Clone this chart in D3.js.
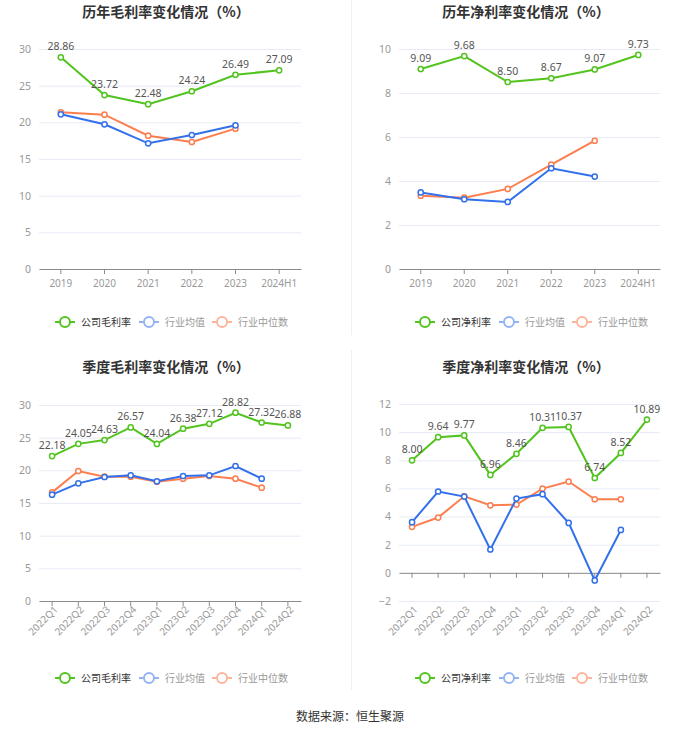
<!DOCTYPE html>
<html><head><meta charset="utf-8">
<script src="https://cdn.jsdelivr.net/npm/d3@7/dist/d3.min.js"></script>
<style>body{margin:0;background:#fff;font-family:"Noto Sans CJK SC","Noto Sans",sans-serif;}</style>
</head><body><svg id="c" width="700" height="734"></svg>
<script>
const years = ["2019","2020","2021","2022","2023","2024H1"];
const quarters = ["2022Q1","2022Q2","2022Q3","2022Q4","2023Q1","2023Q2","2023Q3","2023Q4","2024Q1","2024Q2"];

const yearGross = [28.86,23.72,22.48,24.24,26.49,27.09];
const yearGrossAvg = [21.09,19.73,17.14,18.27,19.59];
const yearGrossMed = [21.36,21.05,18.18,17.32,19.14];

const yearNet = [9.09,9.68,8.50,8.67,9.07,9.73];
const yearNetAvg = [3.48,3.17,3.05,4.58,4.20];
const yearNetMed = [3.33,3.24,3.64,4.74,5.83];

const qGross = [22.18,24.05,24.63,26.57,24.04,26.38,27.12,28.82,27.32,26.88];
const qGrossAvg = [16.28,18.01,18.98,19.23,18.32,19.13,19.23,20.66,18.72];
const qGrossMed = [16.63,19.90,19.03,19.03,18.27,18.72,19.13,18.72,17.35];

const qNet = [8.00,9.64,9.77,6.96,8.46,10.31,10.37,6.74,8.52,10.89];
const qNetAvg = [3.60,5.78,5.42,1.66,5.28,5.59,3.55,-0.54,3.05];
const qNetMed = [3.27,3.93,5.44,4.80,4.85,5.99,6.49,5.23,5.23];

const titles = ["历年毛利率变化情况（%）","历年净利率变化情况（%）","季度毛利率变化情况（%）","季度净利率变化情况（%）"];
const legendNames = [["公司毛利率","行业均值","行业中位数"],["公司净利率","行业均值","行业中位数"]];
const yTicksTop1 = [0,5,10,15,20,25,30];
const yTicksTop2 = [0,2,4,6,8,10];
const yTicksBot1 = [0,5,10,15,20,25,30];
const yTicksBot2 = [-2,0,2,4,6,8,10,12];
const source = "数据来源：恒生聚源";

const GREEN="#52c31f", BLUE="#3370eb", ORANGE="#fc7e4f";
const BLUE_L="#94b3f5", ORANGE_L="#fdb59c";

const svg = d3.select("#c");

// separators
svg.append("line").attr("x1",351.5).attr("x2",351.5).attr("y1",0).attr("y2",335).attr("stroke","#f0f0f0");
svg.append("line").attr("x1",351.5).attr("x2",351.5).attr("y1",350).attr("y2",690).attr("stroke","#f0f0f0");

function panel(cfg){
  const g = svg.append("g");
  const x = d3.scaleBand().domain(cfg.cats).range([cfg.x0,cfg.x1]);
  const y = d3.scaleLinear().domain(cfg.domain).range([cfg.yb,cfg.yt]);
  const cx = d => x(d)+x.bandwidth()/2;
  g.append("text").attr("x",cfg.tx).attr("y",cfg.ty).attr("text-anchor","middle")
    .attr("font-size",14).attr("font-weight","bold").attr("fill","#333").text(cfg.title);
  const yAxis = d3.axisLeft(y).tickValues(cfg.ticks).tickSize(-(cfg.x1-cfg.x0)).tickPadding(8);
  const ga = g.append("g").attr("transform",`translate(${cfg.x0},0)`).call(yAxis);
  ga.select(".domain").remove();
  ga.selectAll(".tick line").attr("stroke","#e6ebf5");
  ga.selectAll(".tick text").attr("fill","#999").attr("font-size",10.5).attr("font-family","Noto Sans, sans-serif");
  const xAxis = d3.axisBottom(x).tickSize(5).tickSizeOuter(0).tickPadding(6);
  const gx = g.append("g").attr("transform",`translate(0,${y(0)})`).call(xAxis);
  gx.select(".domain").attr("stroke","#8c8c8c");
  gx.selectAll(".tick line").attr("stroke","#8c8c8c");
  gx.selectAll(".tick text").attr("fill","#999").attr("font-size",10).attr("font-family","Noto Sans, sans-serif");
  if(cfg.rotate){
    gx.selectAll(".tick text").attr("text-anchor","end")
      .attr("transform",`translate(0,${cfg.yb-y(0)}) rotate(-45)`).attr("dx","-2").attr("dy","0.5em").attr("y",6);
  }
  const line = d3.line().x((d,i)=>cx(cfg.cats[i])).y(d=>y(d));
  const series = [[cfg.med,ORANGE],[cfg.avg,BLUE],[cfg.main,GREEN]];
  series.forEach(([vals,col])=>{
    g.append("path").datum(vals).attr("d",line).attr("fill","none").attr("stroke",col).attr("stroke-width",2);
    g.selectAll(null).data(vals).enter().append("circle")
      .attr("cx",(d,i)=>cx(cfg.cats[i])).attr("cy",d=>y(d)).attr("r",2.6)
      .attr("fill","#fff").attr("stroke",col).attr("stroke-width",1.5);
  });
  g.selectAll(null).data(cfg.main).enter().append("text")
    .attr("x",(d,i)=>cx(cfg.cats[i])).attr("y",d=>y(d)-7).attr("text-anchor","middle")
    .attr("font-size",10.5).attr("fill","#555").attr("font-family","Noto Sans, sans-serif")
    .text(d=>d.toFixed(2));
  const lg = g.append("g").attr("transform",`translate(${cfg.lx},${cfg.ly})`);
  const items = [[cfg.names[0],GREEN,"#333",0],[cfg.names[1],BLUE_L,"#999",84],[cfg.names[2],ORANGE_L,"#999",157]];
  items.forEach(([nm,col,tc,off])=>{
    const it = lg.append("g").attr("transform",`translate(${off},0)`);
    it.append("line").attr("x1",0).attr("x2",20).attr("y1",0).attr("y2",0).attr("stroke",col).attr("stroke-width",2);
    it.append("circle").attr("cx",10).attr("cy",0).attr("r",5).attr("fill","#fff").attr("stroke",col).attr("stroke-width",2);
    it.append("text").attr("x",26).attr("y",3.6).attr("font-size",10).attr("fill",tc).text(nm);
  });
}

panel({cats:years,domain:[0,30],ticks:yTicksTop1,x0:39,x1:301,yb:269,yt:49,title:titles[0],tx:166,ty:17,
  main:yearGross,avg:yearGrossAvg,med:yearGrossMed,names:legendNames[0],lx:55,ly:322});
panel({cats:years,domain:[0,10],ticks:yTicksTop2,x0:399,x1:660,yb:269,yt:49,title:titles[1],tx:526,ty:17,
  main:yearNet,avg:yearNetAvg,med:yearNetMed,names:legendNames[1],lx:415,ly:322});
panel({cats:quarters,domain:[0,30],ticks:yTicksBot1,x0:39,x1:301,yb:601,yt:405,title:titles[2],tx:166,ty:372,rotate:true,
  main:qGross,avg:qGrossAvg,med:qGrossMed,names:legendNames[0],lx:55,ly:678});
panel({cats:quarters,domain:[-2,12],ticks:yTicksBot2,x0:399,x1:660,yb:601,yt:404,title:titles[3],tx:526,ty:372,rotate:true,
  main:qNet,avg:qNetAvg,med:qNetMed,names:legendNames[1],lx:415,ly:678});

svg.append("text").attr("x",350).attr("y",721).attr("text-anchor","middle").attr("font-size",12).attr("fill","#333").text(source);
</script></body></html>
